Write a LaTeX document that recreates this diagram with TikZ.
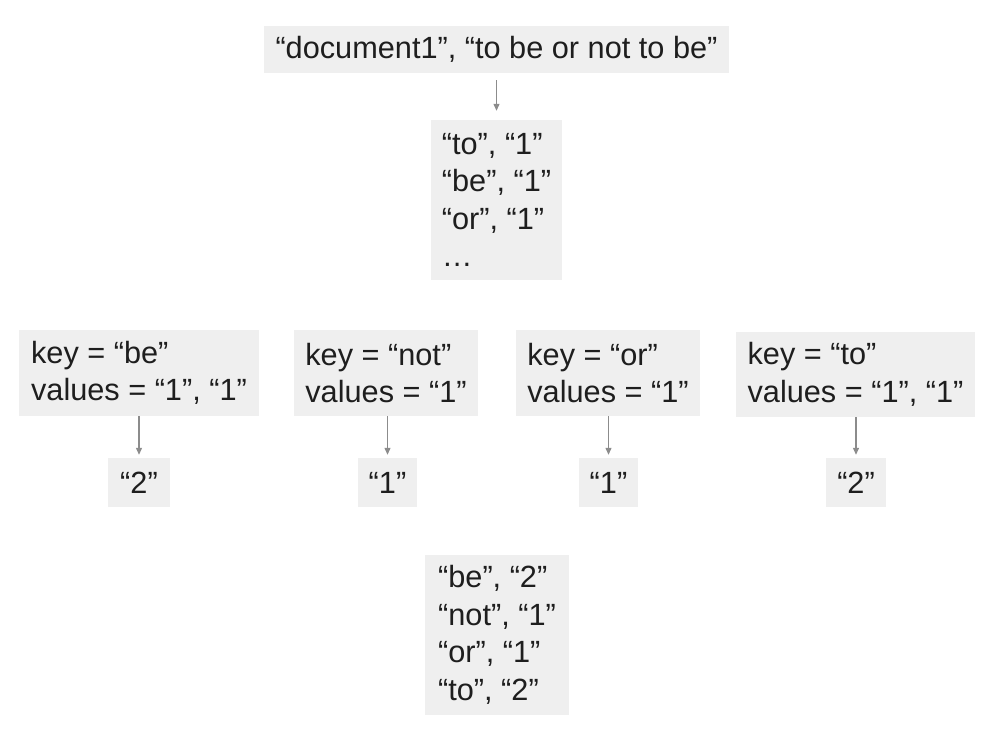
\documentclass[tikz,border=0pt]{standalone}
\usepackage{fontspec}
\setmainfont{Liberation Sans}
\usetikzlibrary{arrows.meta}
\definecolor{boxfill}{HTML}{EFEFEF}
\definecolor{arrowgray}{HTML}{8C8C8C}
\definecolor{txt}{HTML}{1E1E1E}
\tikzset{
  box/.style={fill=boxfill, text=txt, inner sep=0pt, align=left,
    font=\fontsize{30.7}{37.5}\selectfont},
  conn/.style={draw=arrowgray, line width=1.2pt,
    -{Triangle[length=7pt,width=6pt]}}
}
\begin{document}
\begin{tikzpicture}[x=1pt,y=-1pt]
\useasboundingbox (0,0) rectangle (996,731);
\node[box, minimum width=465pt, minimum height=47pt] (doc) at (496.5,49.5) {“document1”, “to be or not to be”};
\node[box, minimum width=131pt, minimum height=160pt] (pairs) at (496.5,200) {“to”, “1”\\“be”, “1”\\“or”, “1”\\…};
\node[box, minimum width=240pt, minimum height=86pt] (kbe) at (139,373) {key = “be”\\values = “1”, “1”};
\node[box, minimum width=184pt, minimum height=86pt] (knot) at (386,373) {key = “not”\\values = “1”};
\node[box, minimum width=184pt, minimum height=86pt] (kor) at (608,373) {key = “or”\\values = “1”};
\node[box, minimum width=239pt, minimum height=85pt] (kto) at (855.5,374.5) {key = “to”\\values = “1”, “1”};
\node[box, minimum width=62pt, minimum height=49pt] (rbe) at (139,482.5) {“2”};
\node[box, minimum width=59pt, minimum height=49pt] (rnot) at (387.5,482.5) {“1”};
\node[box, minimum width=59pt, minimum height=49pt] (ror) at (608.5,482.5) {“1”};
\node[box, minimum width=60pt, minimum height=49pt] (rto) at (856,482.5) {“2”};
\node[box, minimum width=144pt, minimum height=160pt] (final) at (497,635) {“be”, “2”\\“not”, “1”\\“or”, “1”\\“to”, “2”};
\draw[conn, shorten <=7pt, shorten >=9pt] (doc) -- (pairs);
\draw[conn, shorten >=3pt] (kbe.south -| rbe.north) -- (rbe.north);
\draw[conn, shorten >=3pt] (knot.south -| rnot.north) -- (rnot.north);
\draw[conn, shorten >=3pt] (kor.south -| ror.north) -- (ror.north);
\draw[conn, shorten >=3pt] (kto.south -| rto.north) -- (rto.north);
\end{tikzpicture}
\end{document}
